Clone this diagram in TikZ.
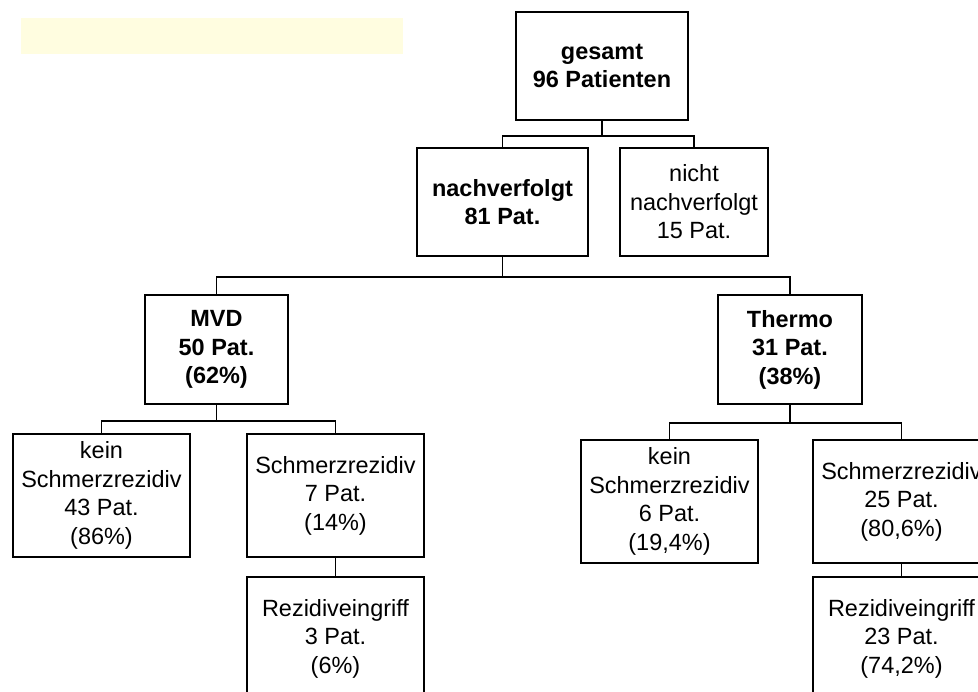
\documentclass[tikz,border=0pt]{standalone}
\usepackage{fontspec}
\setmainfont{Liberation Sans}
\newcommand\boxfont{\fontsize{17.6}{21.4}\selectfont}
\definecolor{paleyellow}{HTML}{FFFDE0}
\tikzset{
  box/.style={draw, line width=1.4pt, inner sep=0pt, align=center, font=\boxfont},
  boldbox/.style={box, font=\boxfont\bfseries},
  link/.style={line width=1.4pt}
}
\begin{document}
\begin{tikzpicture}[x=0.75pt,y=-0.75pt]
\clip (0,0) rectangle (978,692);
\fill[white] (0,0) rectangle (978,692);
\fill[paleyellow] (21,18) rectangle (403,54);

\node[boldbox, minimum width=172*0.75pt, minimum height=108*0.75pt] (gesamt) at (602,66) {gesamt\\96 Patienten};
\node[boldbox, minimum width=171*0.75pt, minimum height=108*0.75pt] (nach) at (502.5,202) {nachverfolgt\\81 Pat.};
\node[box, minimum width=148*0.75pt, minimum height=108*0.75pt] (nicht) at (694,202) {nicht\\nachverfolgt\\15 Pat.};
\node[boldbox, minimum width=143*0.75pt, minimum height=109*0.75pt] (mvd) at (216.5,349.5) {MVD\\50 Pat.\\(62\%)};
\node[boldbox, minimum width=144*0.75pt, minimum height=109*0.75pt] (thermo) at (790,349.5) {Thermo\\31 Pat.\\(38\%)};
\node[box, minimum width=177*0.75pt, minimum height=123*0.75pt] (keinL) at (101.5,495.5) {kein\\Schmerzrezidiv\\43 Pat.\\(86\%)};
\node[box, minimum width=177*0.75pt, minimum height=123*0.75pt] (schmL) at (335.5,495.5) {Schmerzrezidiv\\7 Pat.\\(14\%)};
\node[box, minimum width=177*0.75pt, minimum height=123*0.75pt] (rezL) at (335.5,638.5) {Rezidiveingriff\\3 Pat.\\(6\%)};
\node[box, minimum width=177*0.75pt, minimum height=123*0.75pt] (keinR) at (669.5,501.5) {kein\\Schmerzrezidiv\\6 Pat.\\(19,4\%)};
\node[box, minimum width=177*0.75pt, minimum height=123*0.75pt] (schmR) at (901.5,501.5) {Schmerzrezidiv\\25 Pat.\\(80,6\%)};
\node[box, minimum width=177*0.75pt, minimum height=123*0.75pt] (rezR) at (901.5,638.5) {Rezidiveingriff\\23 Pat.\\(74,2\%)};

\draw[link] (gesamt.south) -- ++(0,15) coordinate (g1) -| (nach.north);
\draw[link] (g1) -| (nicht.north);
\draw[link] (nach.south) -- ++(0,20) coordinate (n1) -| (mvd.north);
\draw[link] (n1) -| (thermo.north);
\draw[link] (mvd.south) -- ++(0,16) coordinate (m1) -| (keinL.north);
\draw[link] (m1) -| (schmL.north);
\draw[link] (thermo.south) -- ++(0,18) coordinate (t1) -| (keinR.north);
\draw[link] (t1) -| (schmR.north);
\draw[link] (schmL.south) -- (rezL.north);
\draw[link] (schmR.south) -- (rezR.north);
\end{tikzpicture}
\end{document}
